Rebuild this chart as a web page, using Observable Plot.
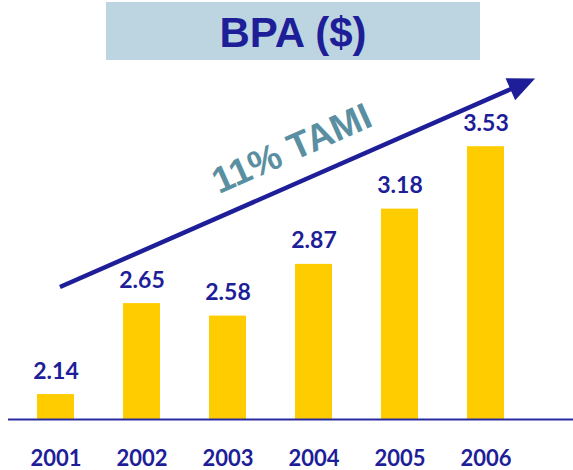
<!DOCTYPE html>
<html><head><meta charset="utf-8">
<script src="https://cdn.jsdelivr.net/npm/d3@7"></script>
<script src="https://cdn.jsdelivr.net/npm/@observablehq/plot@0.6"></script>
<style>
body{margin:0;background:#fff;}
#wrap{position:relative;width:573px;height:470px;overflow:hidden;}
#title{position:absolute;left:106px;top:2px;width:374px;height:58px;background:#BCD5E0;color:#1E1E99;font:bold 42px "Liberation Sans",Arial,sans-serif;display:flex;align-items:center;justify-content:center;padding-top:3px;box-sizing:border-box;z-index:2;}
#wrap svg{position:absolute;left:0;top:0;}
</style></head><body>
<div id="wrap"><div id="title">BPA ($)</div></div>
<script>
const years = ["2001","2002","2003","2004","2005","2006"];
const bpa = [2.14, 2.65, 2.58, 2.87, 3.18, 3.53];
const valueLabels = ["2.14","2.65","2.58","2.87","3.18","3.53"];
const trendLabel = "11% TAMI";
const trendYears = ["2001","2006"];
const trendValues = [2.74, 3.91];

const data = years.map((y, i) => ({year: y, value: bpa[i], label: valueLabels[i]}));
const blue = "#1E1E99";
const numFont = "Lato, 'Open Sans', sans-serif";

const plot = Plot.plot({
  width: 573,
  height: 470,
  marginTop: 0,
  marginBottom: 51,
  marginLeft: 8,
  marginRight: 0,
  style: {background: "transparent", overflow: "visible"},
  x: {type: "band", domain: years, range: [35, 506], paddingInner: 0.574, paddingOuter: 0, axis: null},
  y: {domain: [2, 4.35], axis: null},
  marks: [
    Plot.barY(data, {x: "year", y1: 2, y2: "value", fill: "#FFCC00"}),
    Plot.ruleY([2], {stroke: "#2A2AA0", strokeWidth: 2}),
    Plot.text(data, {x: "year", y: "value", text: "label", lineAnchor: "bottom", dy: -16,
      fill: blue, fontSize: 23, fontWeight: "bold", fontFamily: numFont}),
    Plot.axisX({domain: years, tickSize: 0, tickPadding: 31, fontSize: 22, fontWeight: "bold",
      fontFamily: numFont, color: blue, label: null})
  ]
});
document.getElementById("wrap").appendChild(plot);

// trend arrow + label, positioned through the plot's scales
const sx = plot.scale("x"), sy = plot.scale("y");
const bw = sx.bandwidth;
const x0 = sx.apply(trendYears[0]) + bw * 0.62;
const x1 = sx.apply(trendYears[1]) + bw * 1.84;
const y0 = sy.apply(trendValues[0]);
const y1 = sy.apply(trendValues[1]);
const ang = Math.atan2(y1 - y0, x1 - x0);
const headLen = 27, headHalf = 12;
const bx = x1 - headLen * Math.cos(ang), by = y1 - headLen * Math.sin(ang);
const svg = d3.select(plot);
const g = svg.append("g");
g.append("line").attr("x1", x0).attr("y1", y0).attr("x2", bx + 2*Math.cos(ang)).attr("y2", by + 2*Math.sin(ang))
  .attr("stroke", blue).attr("stroke-width", 4.5);
const px = -Math.sin(ang), py = Math.cos(ang);
g.append("polygon").attr("points", [
  [x1, y1], [bx + px*headHalf, by + py*headHalf], [bx - px*headHalf, by - py*headHalf]
].map(p => p.join(",")).join(" ")).attr("fill", blue);
const tx = x0 + (x1 - x0) * 0.49, ty = y0 + (y1 - y0) * 0.49 - 34;
g.append("text").attr("transform", `translate(${tx},${ty}) rotate(-24)`)
  .attr("text-anchor", "middle").attr("dominant-baseline", "middle")
  .attr("fill", "#5A8FA2").attr("font-family", "'Liberation Sans', Arial, sans-serif")
  .attr("font-weight", "bold").attr("font-size", 37).text(trendLabel);
</script>
</body></html>
